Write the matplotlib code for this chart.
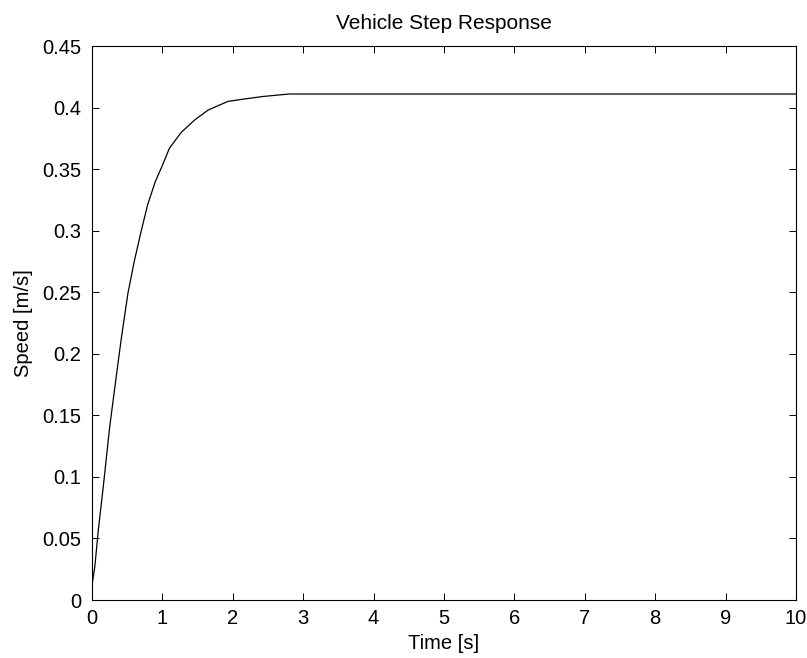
import numpy as np
import matplotlib
matplotlib.use("Agg")
import matplotlib.pyplot as plt

# values
time_s = [0.0, 0.04, 0.09, 0.16, 0.25, 0.35, 0.42, 0.51, 0.6, 0.7, 0.79,
          0.9, 1.0, 1.1, 1.27, 1.46, 1.65, 1.93, 2.17, 2.43, 2.8, 3.5, 10.0]
speed = [0.012, 0.027, 0.057, 0.092, 0.14, 0.184, 0.214, 0.249, 0.275, 0.300,
         0.321, 0.340, 0.353, 0.367, 0.380, 0.390, 0.398, 0.405, 0.407, 0.409,
         0.411, 0.411, 0.411]

x_ticks = list(range(0, 11))
y_ticks = [0, 0.05, 0.1, 0.15, 0.2, 0.25, 0.3, 0.35, 0.4, 0.45]
y_labels = ["0", "0.05", "0.1", "0.15", "0.2", "0.25", "0.3", "0.35", "0.4", "0.45"]

fs = 14.5
plt.rcParams['font.family'] = ['Liberation Sans', 'DejaVu Sans']
plt.rcParams['font.size'] = fs

fig = plt.figure(figsize=(8.07, 6.58), dpi=100)
# axes box: left 92px, right 796px, top 46px, bottom 600px
ax = fig.add_axes([92 / 807, 1 - 600 / 658, (796 - 92) / 807, (600 - 46) / 658])

ax.plot(time_s, speed, color="black", linewidth=0.9)

ax.set_xlim(0, 10)
ax.set_ylim(0, 0.45)
ax.set_xticks(x_ticks)
ax.set_yticks(y_ticks)
ax.set_yticklabels(y_labels)
ax.tick_params(direction="in", length=5, width=0.7, top=True, right=True,
               labelsize=fs)
ax.tick_params(axis="x", pad=6.5)
ax.tick_params(axis="y", pad=8)
for s in ax.spines.values():
    s.set_linewidth(0.8)

ax.set_title("Vehicle Step Response", fontsize=15, pad=12)
ax.set_xlabel("Time [s]", fontsize=fs, labelpad=4)
ax.set_ylabel("Speed [m/s]", fontsize=fs, labelpad=6)

fig.savefig("out.png", dpi=100)
